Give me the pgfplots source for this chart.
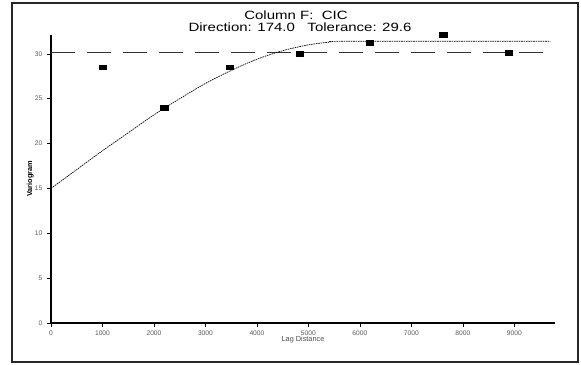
\documentclass[border=0pt]{standalone}
\usepackage{pgfplots}
\pgfplotsset{compat=1.18}
\usepackage{fontspec}
\setmainfont{Liberation Sans}
\begin{document}
\begin{tikzpicture}[x=1pt,y=1pt]
\path (0,0) rectangle (435.75,273);
\draw[line width=1.2pt, black!85] (9,1.5) rectangle (433.5,270.75);
\node[font=\fontsize{9}{10}\selectfont, xscale=1.25, transform shape] at (222,261.5) {Column F:\ \ CIC};
\node[font=\fontsize{9}{10}\selectfont, xscale=1.25, transform shape] at (225,252.5) {Direction: 174.0\ \ \ Tolerance: 29.6};
\begin{axis}[
  at={(38.25pt,30.75pt)}, anchor=south west,
  scale only axis, width=378pt, height=216pt,
  xmin=0, xmax=9790, ymin=0, ymax=32.1,
  axis x line*=bottom, axis y line*=left,
  axis line style={line width=0.8pt, black},
  xtick={0,1000,2000,3000,4000,5000,6000,7000,8000,9000},
  ytick={0,5,10,15,20,25,30},
  tick align=outside, major tick length=3pt,
  tick style={black, line width=0.5pt},
  /pgf/number format/set thousands separator={},
  /pgf/number format/assume math mode=true,
  ticklabel style={font=\fontsize{5}{6}\selectfont, text=black!65},
  xticklabel style={yshift=1pt},
  xlabel={Lag Distance}, ylabel={\bfseries Variogram},
  label style={font=\fontsize{5.5}{6}\selectfont, text=black!70},
  ylabel style={text=black},
  xlabel style={yshift=6pt},
  ylabel style={yshift=-6pt},
  clip=false,
]
\addplot[black!80, line width=0.7pt, dash pattern=on 18pt off 9pt] coordinates {(0,30.1) (9700,30.1)};
\addplot[black, line width=0.5pt, dash pattern=on 1.2pt off 0.6pt, smooth] coordinates {
(0,15) (500,17.1) (1000,19.2) (1500,21.2) (2000,23.2) (2500,25.0) (3000,26.7) (3500,28.15) (4000,29.4) (4500,30.35) (5000,31.0) (5400,31.3) (5800,31.4) (9700,31.4)};
\addplot[only marks, mark=square*, mark size=1.8pt, mark options={xscale=1.5, fill=black, draw=black}] coordinates {
(1000,28.5) (2200,24.0) (3480,28.5) (4830,30.0) (6190,31.2) (7620,32.1) (8890,30.1)};
\end{axis}
\end{tikzpicture}
\end{document}
